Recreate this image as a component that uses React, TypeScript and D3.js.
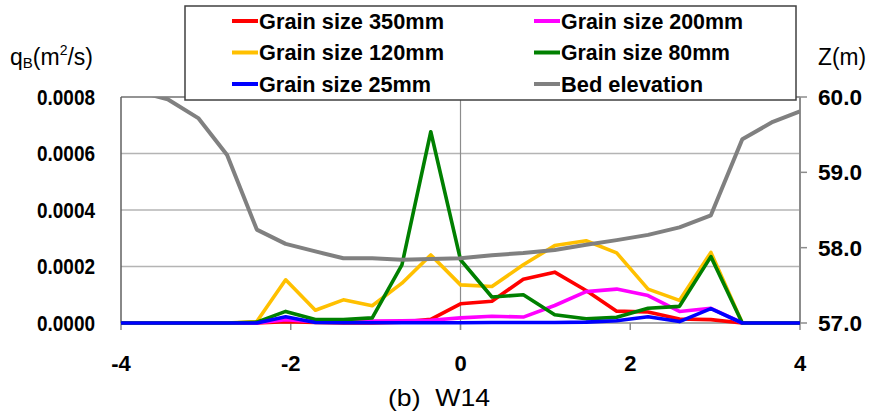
import React from "react";
import * as d3 from "d3";

// distance (m) of each sampled point
const xPos = [-4.14, -3.79, -3.45, -3.09, -2.75, -2.4, -2.06, -1.71, -1.38, -1.04, -0.69, -0.35, 0, 0.37, 0.74, 1.11, 1.48, 1.84, 2.21, 2.58, 2.95, 3.32, 3.68, 4.0];

// bed load qB (m2/s) per grain size
const q350 = [0, 0, 0, 0, 0, 0, 0.05e-4, 0.02e-4, 0, 0, 0.03e-4, 0.13e-4, 0.68e-4, 0.77e-4, 1.55e-4, 1.8e-4, 1.15e-4, 0.42e-4, 0.39e-4, 0.14e-4, 0.12e-4, 0, 0, 0];
const q200 = [0, 0, 0, 0, 0, 0, 0.12e-4, 0.05e-4, 0.07e-4, 0.07e-4, 0.08e-4, 0.1e-4, 0.18e-4, 0.24e-4, 0.21e-4, 0.62e-4, 1.11e-4, 1.2e-4, 0.97e-4, 0.41e-4, 0.52e-4, 0, 0, 0];
const q120 = [0, 0, 0, 0, 0, 0.05e-4, 1.53e-4, 0.45e-4, 0.82e-4, 0.61e-4, 1.41e-4, 2.41e-4, 1.35e-4, 1.29e-4, 2.06e-4, 2.74e-4, 2.91e-4, 2.48e-4, 1.2e-4, 0.8e-4, 2.5e-4, 0, 0, 0];
const q80 = [0, 0, 0, 0, 0, 0.03e-4, 0.41e-4, 0.12e-4, 0.12e-4, 0.18e-4, 2.06e-4, 6.77e-4, 2.24e-4, 0.92e-4, 1.0e-4, 0.29e-4, 0.15e-4, 0.2e-4, 0.52e-4, 0.59e-4, 2.35e-4, 0, 0, 0];
const q25 = [0, 0, 0, 0, 0, 0, 0.22e-4, 0.02e-4, 0.01e-4, 0.01e-4, 0.01e-4, 0.01e-4, 0.01e-4, 0.02e-4, 0.02e-4, 0.02e-4, 0.03e-4, 0.08e-4, 0.22e-4, 0.05e-4, 0.51e-4, 0, 0, 0];

// bed elevation Z (m), right axis
const bedZ = [60.2, 60.07, 59.97, 59.72, 59.23, 58.24, 58.05, 57.95, 57.86, 57.86, 57.84, 57.85, 57.86, 57.9, 57.93, 57.97, 58.04, 58.1, 58.17, 58.27, 58.43, 59.44, 59.67, 59.81];

const xTicks = [-4, -2, 0, 2, 4];
const qTicks = [0, 0.0002, 0.0004, 0.0006, 0.0008];
const zTicks = [57, 58, 59, 60];

const W = 879;
const H = 416;
const left = 121;
const right = 800;
const top = 97;
const bottom = 323;

const font = "'Liberation Sans', Arial, sans-serif";

export default function App() {
  const x = d3.scaleLinear().domain([-4, 4]).range([left, right]);
  const yq = d3.scaleLinear().domain([0, 0.0008]).range([bottom, top]);
  const yz = d3.scaleLinear().domain([57, 60]).range([bottom, top]);

  const qLine = d3.line<number>().x((d, i) => x(xPos[i])).y(d => yq(d));
  const zLine = d3.line<number>().x((d, i) => x(xPos[i])).y(d => yz(d));

  const series = [
    { name: "Grain size 350mm", values: q350, color: "#ff0000" },
    { name: "Grain size 200mm", values: q200, color: "#ff00ff" },
    { name: "Grain size 120mm", values: q120, color: "#ffc000" },
    { name: "Grain size 80mm", values: q80, color: "#008000" },
    { name: "Grain size 25mm", values: q25, color: "#0000ff" },
  ];

  const legend = [
    { name: "Grain size 350mm", color: "#ff0000", w: 185 },
    { name: "Grain size 200mm", color: "#ff00ff", w: 182 },
    { name: "Grain size 120mm", color: "#ffc000", w: 185 },
    { name: "Grain size 80mm", color: "#008000", w: 169 },
    { name: "Grain size 25mm", color: "#0000ff", w: 172 },
    { name: "Bed elevation", color: "#808080", w: 142 },
  ];

  return (
    <svg width={W} height={H} style={{ position: "absolute", left: 0, top: 0, background: "#fff" }} fontFamily={font}>
      <defs>
        <clipPath id="plot">
          <rect x={left} y={top} width={right - left} height={bottom - top + 6} />
        </clipPath>
      </defs>

      {/* gridlines */}
      {qTicks.slice(1).map(t => (
        <line key={t} x1={left} x2={right} y1={yq(t)} y2={yq(t)} stroke={t === 0.0008 ? "#707070" : "#b4b4b4"} strokeWidth={1.5} />
      ))}
      <line x1={x(0)} x2={x(0)} y1={top} y2={bottom + 7} stroke="#8c8c8c" strokeWidth={1.2} />

      {/* axes */}
      <line x1={left} x2={left} y1={top} y2={bottom} stroke="#606060" strokeWidth={1.5} />
      <line x1={right} x2={right} y1={top} y2={bottom} stroke="#8c8c8c" strokeWidth={2} />
      <line x1={left} x2={right} y1={bottom} y2={bottom} stroke="#8c8c8c" strokeWidth={1.5} />
      {xTicks.map(t => (
        <line key={t} x1={x(t)} x2={x(t)} y1={bottom} y2={bottom + 7} stroke="#8c8c8c" strokeWidth={1.5} />
      ))}
      {zTicks.map(t => (
        <line key={t} x1={right} x2={right + 7} y1={yz(t)} y2={yz(t)} stroke="#8c8c8c" strokeWidth={1.5} />
      ))}

      {/* series */}
      <g clipPath="url(#plot)" fill="none" strokeWidth={3.6} strokeLinejoin="round">
        {series.map(s => (
          <path key={s.name} d={qLine(s.values) || ""} stroke={s.color} />
        ))}
        <path d={zLine(bedZ) || ""} stroke="#808080" strokeWidth={4} />
      </g>

      {/* tick labels */}
      <g fontWeight="bold" fontSize={22} fill="#000">
        {qTicks.map(t => (
          <text key={t} x={37} y={yq(t)} dy="0.36em" textLength={58} lengthAdjust="spacingAndGlyphs">{d3.format(".4f")(t)}</text>
        ))}
        {zTicks.map(t => (
          <text key={t} x={818} y={yz(t)} dy="0.36em" textLength={44} lengthAdjust="spacingAndGlyphs">{d3.format(".1f")(t)}</text>
        ))}
        {xTicks.map(t => (
          <text key={t} x={x(t)} y={363} dy="0.36em" textAnchor="middle">{t}</text>
        ))}
      </g>

      {/* axis titles */}
      <text x={10} y={65} fontSize={23} fill="#000">
        q<tspan fontSize={15} dy={3}>B</tspan>
        <tspan dy={-3}>(m</tspan>
        <tspan fontSize={14} dy={-10}>2</tspan>
        <tspan dy={10}>/s)</tspan>
      </text>
      <text x={818} y={65} fontSize={23} fill="#000" textLength={48} lengthAdjust="spacingAndGlyphs">Z(m)</text>
      <text x={388} y={406} fontSize={24} fill="#000" xmlSpace="preserve" textLength={102} lengthAdjust="spacingAndGlyphs">(b)  W14</text>

      {/* legend */}
      <rect x={185} y={6} width={611} height={94} fill="#fff" stroke="#404040" strokeWidth={1.5} />
      {legend.map((d, i) => {
        const col = i % 2;
        const row = Math.floor(i / 2);
        const lx = col === 0 ? 232 : 534;
        const ly = 21 + row * 31.5;
        return (
          <g key={d.name}>
            <line x1={lx} x2={lx + 26} y1={ly} y2={ly} stroke={d.color} strokeWidth={4} />
            <text x={lx + 27} y={ly} dy="0.36em" fontSize={22} fontWeight="bold" fill="#000" textLength={d.w} lengthAdjust="spacingAndGlyphs">{d.name}</text>
          </g>
        );
      })}
    </svg>
  );
}
